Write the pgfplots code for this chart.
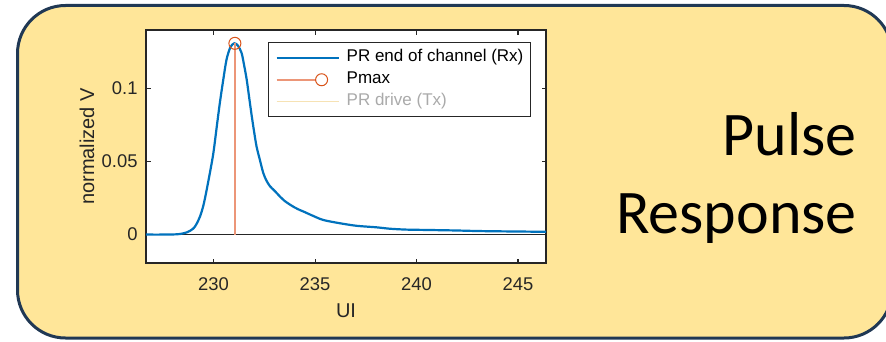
\documentclass[border=0pt]{standalone}
\usepackage{pgfplots}
\pgfplotsset{compat=1.18}
\usepackage{fontspec}
\setmainfont{Liberation Sans}
\newfontfamily\calibri{Carlito}
\definecolor{bgfill}{RGB}{255,230,153}
\definecolor{bgborder}{RGB}{32,56,84}
\definecolor{mblue}{RGB}{0,114,189}
\definecolor{morange}{RGB}{217,83,25}
\definecolor{mstem}{RGB}{236,150,120}
\definecolor{axgray}{RGB}{38,38,38}
\definecolor{drive}{RGB}{246,226,180}
\definecolor{drivetext}{RGB}{170,170,170}

\pgfplotstableread{
x y
226.67 0
227.5 0
228.0 0.0001
228.34 0.0004
228.7 0.0016
228.99 0.0040
229.15 0.007
229.33 0.0123
229.5 0.020
229.66 0.0306
229.83 0.043
229.99 0.0557
230.15 0.073
230.31 0.090
230.48 0.106
230.64 0.1196
230.83 0.128
231.02 0.1306
231.2 0.129
231.38 0.124
231.5 0.116
231.63 0.106
231.75 0.094
231.88 0.081
232.0 0.070
232.12 0.060
232.3 0.050
232.45 0.042
232.6 0.037
232.78 0.033
233.0 0.030
233.27 0.026
233.5 0.023
233.76 0.0205
234.0 0.0185
234.26 0.0167
234.42 0.0158
234.9 0.0128
235.4 0.0100
236.2 0.0078
237.05 0.0060
238.0 0.0050
238.69 0.0040
239.5 0.0034
240.33 0.0032
241.2 0.0030
241.97 0.0028
242.8 0.0025
243.62 0.0023
245.0 0.0021
246.38 0.0019
}\prdata

\begin{document}
\begin{tikzpicture}[x=1pt,y=1pt]
\useasboundingbox (0,0) rectangle (886,341);
\draw[line width=3pt, draw=bgborder, fill=bgfill, rounded corners=48pt] (17.5,3) rectangle (892,335.5);
\node[anchor=base east, inner sep=0pt, font=\calibri\fontsize{62}{74}\selectfont] at (857,186) {Pulse};
\node[anchor=base east, inner sep=0pt, font=\calibri\fontsize{62}{74}\selectfont] at (857,107.7) {Response};
\begin{axis}[
  at={(146pt,78pt)}, anchor=south west,
  scale only axis, width=400pt, height=233pt,
  xmin=226.67, xmax=246.38, ymin=-0.0194, ymax=0.1397,
  axis background/.style={fill=white},
  axis line style={axgray, line width=1.1pt},
  tick style={axgray, line width=1.1pt},
  major tick length=4.5pt,
  tick align=inside,
  xtick={230,235,240,245}, xticklabels={230,235,240,245},
  ytick={0,0.05,0.1}, yticklabels={0,0.05,0.1},
  scaled y ticks=false,
  tick label style={font=\fontsize{18.4}{22}\selectfont, text=axgray},
  xticklabel style={anchor=base, yshift=-27pt},
  yticklabel style={anchor=east, inner sep=0pt, xshift=-8.3pt},
  label style={font=\fontsize{20}{24}\selectfont, text=axgray},
  xlabel={UI}, ylabel={normalized V},
  xlabel style={at={(axis description cs:0.5,-0.233)}, anchor=base},
  ylabel style={at={(axis description cs:-0.1475,0.5)}, anchor=center},
  legend cell align=left,
  legend style={at={(axis description cs:0.962,0.947)}, anchor=north east,
    draw=axgray, line width=0.8pt, fill=white,
    font=\fontsize{17}{20}\selectfont,
    inner xsep=7pt, inner ysep=6pt, row sep=4pt, column sep=7pt,
    nodes={inner sep=0pt, text height=13pt, text depth=5pt}},
  legend image code/.code={\draw[#1] (0pt,0pt) -- (62pt,0pt);},
]
\addplot[axgray, line width=1.1pt, forget plot] coordinates {(226.67,0) (246.38,0)};
\addplot[mblue, line width=2.2pt, smooth] table[x=x,y=y] {\prdata};
\addlegendentry{PR end of channel (Rx)}
\addplot[mstem, line width=1.6pt, ycomb, mark=o, mark size=6pt, mark options={morange, line width=1pt, solid},
  legend image code/.code={\draw[draw=mstem, line width=1.8pt] (0pt,0pt) -- (39pt,0pt); \draw[draw=morange, line width=1pt] (45pt,0pt) circle (6pt);}]
  coordinates {(231.05,0.1306)};
\addlegendentry{Pmax}
\addlegendimage{drive, line width=1.2pt}
\addlegendentry{\textcolor{drivetext}{PR drive (Tx)}}
\end{axis}
\end{tikzpicture}
\end{document}
